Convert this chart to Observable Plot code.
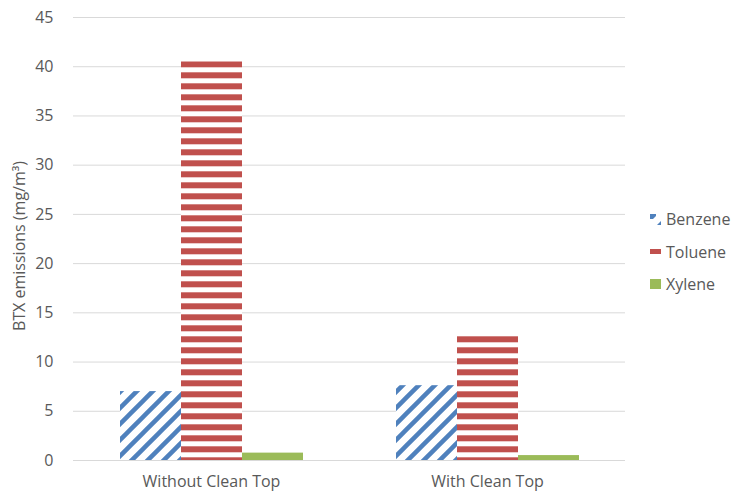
<!DOCTYPE html>
<html>
<head>
<meta charset="utf-8">
<script src="https://cdn.jsdelivr.net/npm/d3@7"></script>
<script src="https://cdn.jsdelivr.net/npm/@observablehq/plot@0.6"></script>
<style>
  body { margin: 0; background: #fff; font-family: "Open Sans", sans-serif; }
  #chart { position: relative; width: 733px; height: 498px; }
  #ytitle {
    position: absolute; left: 19px; top: 246px;
    transform: translate(-50%, -50%) rotate(-90deg);
    white-space: nowrap; font-size: 16px; color: #595959;
  }
  #legend { position: absolute; left: 650px; top: 203px; font-size: 16px; color: #595959; }
  .item { display: flex; align-items: center; height: 32.5px; }
  .item svg { width: 11px; height: 11px; margin-right: 5px; flex: none; }
</style>
</head>
<body>
<div id="chart">
  <div id="ytitle">BTX emissions (mg/m³)</div>
  <div id="legend"></div>
</div>
<script>
// Measured BTX emissions by configuration
const groups = ["Without Clean Top", "With Clean Top"];
const seriesNames = ["Benzene", "Toluene", "Xylene"];
const benzene = [7.0, 7.6];
const toluene = [40.5, 12.6];
const xylene = [0.75, 0.5];
const yTicks = [0, 5, 10, 15, 20, 25, 30, 35, 40, 45];

const valuesBySeries = { Benzene: benzene, Toluene: toluene, Xylene: xylene };
const rows = groups.flatMap((g, i) =>
  seriesNames.map(s => ({ group: g, series: s, value: valuesBySeries[s][i] }))
);

const blue = "#4F81BD", red = "#C0504D", green = "#9BBB59";
const fills = {
  Benzene: "url(#hatch-benzene)",
  Toluene: "url(#stripe-toluene)",
  Xylene: green
};

const plot = Plot.plot({
  width: 733,
  height: 498,
  marginTop: 17,
  marginBottom: 38,
  marginLeft: 73,
  marginRight: 108,
  style: { fontFamily: "Open Sans", fontSize: "16px", color: "#595959", background: "white" },
  fx: { domain: groups, padding: 0, label: null, axis: "bottom", tickSize: 0, tickPadding: 15 },
  x: { domain: seriesNames, paddingInner: 0, paddingOuter: 0.76, axis: null },
  y: { domain: [0, 45], ticks: yTicks, tickSize: 0, tickPadding: 20, label: null },
  marks: [
    Plot.ruleY(yTicks, { stroke: "#d9d9d9", strokeWidth: 1 }),
    ...seriesNames.map(s =>
      Plot.barY(rows.filter(d => d.series === s), {
        fx: "group", x: "series", y: "value", fill: fills[s]
      })
    )
  ]
});

// Fill patterns: diagonal hatch for benzene, horizontal stripes for toluene
const yScale = plot.scale("y");
const stripePeriod = 11;
const stripeOffset = yScale.apply(toluene[0]) % stripePeriod;
const hatch = 16;
const defs = d3.select(plot).insert("defs", ":first-child");

const pb = defs.append("pattern")
  .attr("id", "hatch-benzene")
  .attr("patternUnits", "userSpaceOnUse")
  .attr("width", hatch).attr("height", hatch);
pb.append("rect").attr("width", hatch).attr("height", hatch).attr("fill", "white");
pb.append("path")
  .attr("d", `M-2,2 l4,-4 M0,${hatch} l${hatch},${-hatch} M${hatch - 2},${hatch + 2} l4,-4`)
  .attr("stroke", blue).attr("stroke-width", 4.5);

const pt = defs.append("pattern")
  .attr("id", "stripe-toluene")
  .attr("patternUnits", "userSpaceOnUse")
  .attr("y", stripeOffset)
  .attr("width", 20).attr("height", stripePeriod);
pt.append("rect").attr("width", 20).attr("height", stripePeriod).attr("fill", "white");
pt.append("rect").attr("width", 20).attr("height", 6).attr("fill", red);

document.getElementById("chart").prepend(plot);

// Legend
const legend = d3.select("#legend");
const swatches = {
  Benzene: sw => {
    sw.append("polygon").attr("points", "0,0 6,0 6,2 3,5 0,5").attr("fill", blue);
    sw.append("polygon").attr("points", "11,7 11,11 7,11").attr("fill", blue);
  },
  Toluene: sw => sw.append("rect").attr("y", 3).attr("width", 11).attr("height", 5).attr("fill", red),
  Xylene: sw => sw.append("rect").attr("width", 11).attr("height", 10).attr("fill", green)
};
for (const s of seriesNames) {
  const item = legend.append("div").attr("class", "item");
  const sw = item.append("svg").attr("viewBox", "0 0 11 11");
  swatches[s](sw);
  item.append("span").text(s);
}
</script>
</body>
</html>
